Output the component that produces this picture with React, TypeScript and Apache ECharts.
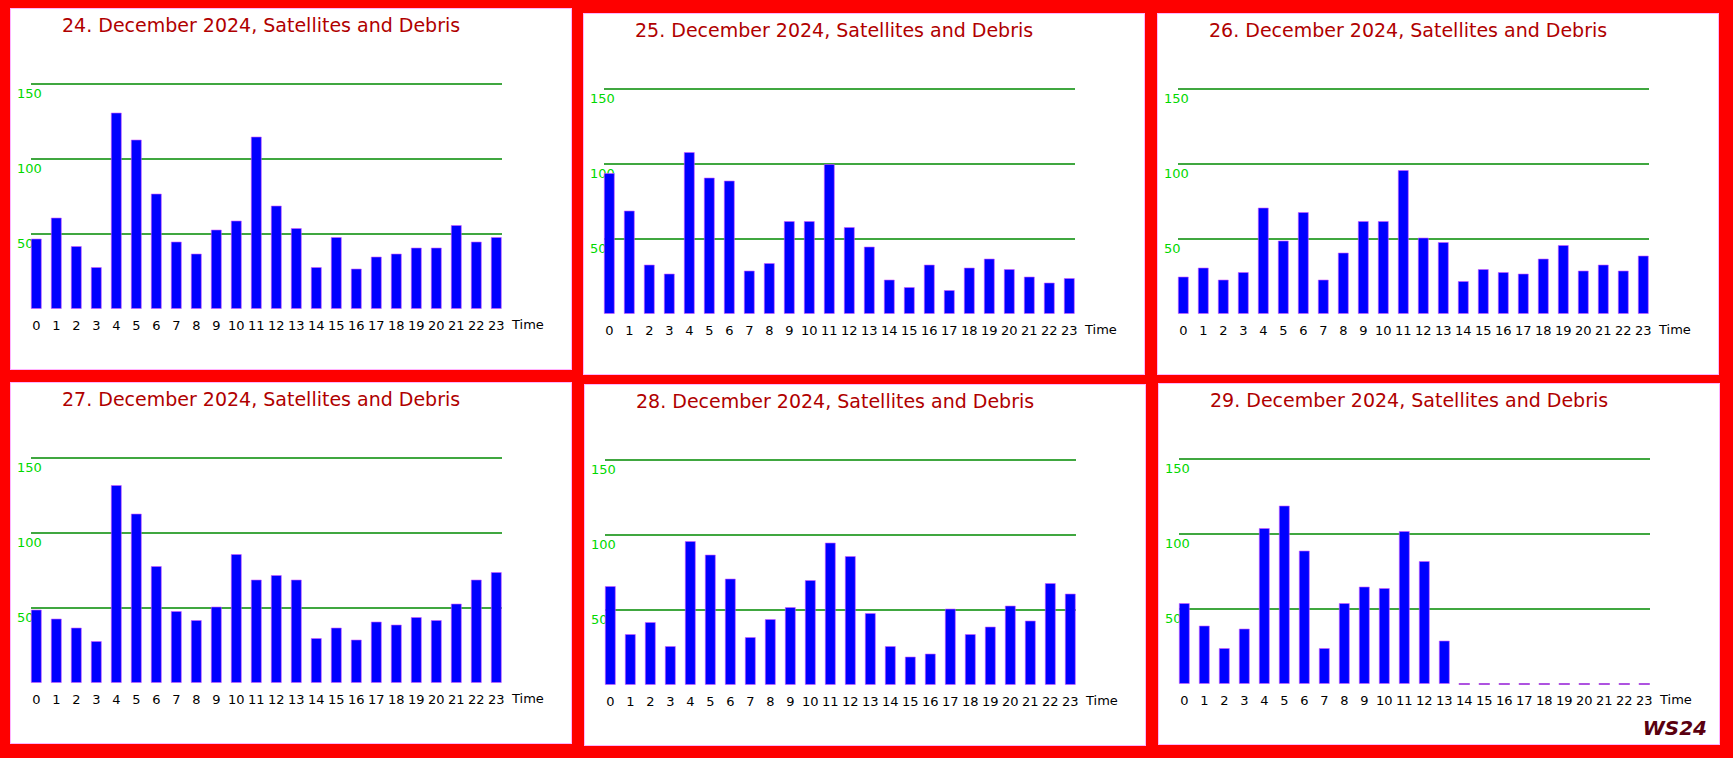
import { useEffect, useRef } from "react";
import * as echarts from "echarts";

// hours on the x axis
const hours = Array.from({ length: 24 }, (_, i) => String(i));

// counts, one array per day
const dec24 = [47, 61, 42, 28, 131, 113, 77, 45, 37, 53, 59, 115, 69, 54, 28, 48, 27, 35, 37, 41, 41, 56, 45, 48];
const dec25 = [94, 69, 33, 27, 108, 91, 89, 29, 34, 62, 62, 100, 58, 45, 23, 18, 33, 16, 31, 37, 30, 25, 21, 24];
const dec26 = [25, 31, 23, 28, 71, 49, 68, 23, 41, 62, 62, 96, 51, 48, 22, 30, 28, 27, 37, 46, 29, 33, 29, 39];
const dec27 = [49, 43, 37, 28, 132, 113, 78, 48, 42, 51, 86, 69, 72, 69, 30, 37, 29, 41, 39, 44, 42, 53, 69, 74];
const dec28 = [66, 34, 42, 26, 96, 87, 71, 32, 44, 52, 70, 95, 86, 48, 26, 19, 21, 51, 34, 39, 53, 43, 68, 61];
const dec29 = [54, 39, 24, 37, 104, 119, 89, 24, 54, 65, 64, 102, 82, 29, null, null, null, null, null, null, null, null, null, null];

const titles = [
  "24. December 2024, Satellites and Debris",
  "25. December 2024, Satellites and Debris",
  "26. December 2024, Satellites and Debris",
  "27. December 2024, Satellites and Debris",
  "28. December 2024, Satellites and Debris",
  "29. December 2024, Satellites and Debris",
];
const dayValues = [dec24, dec25, dec26, dec27, dec28, dec29];

// y axis ticks
const yMax = 150;
const yStep = 50;

// panel positions on the page
const panelPos = [
  [11, 9],
  [584, 14],
  [1158, 14],
  [11, 383],
  [585, 385],
  [1159, 384],
];

const FONT = "DejaVu Sans";

function Panel({ title, values, sign }: { title: string; values: (number | null)[]; sign: boolean }) {
  const chartRef = useRef(null);

  useEffect(() => {
    const chart = echarts.init(chartRef.current, null, { renderer: "svg" });

    const missing = values
      .map((v, i) => (v == null ? [i, 0] : null))
      .filter((d) => d != null);

    const graphics: any[] = [
      {
        type: "text",
        left: 501,
        top: 309,
        style: { text: "Time", fill: "#000", fontSize: 13, fontFamily: FONT },
      },
    ];
    if (sign) {
      graphics.push({
        type: "text",
        right: 12,
        bottom: 6,
        style: {
          text: "WS24",
          fill: "#5a0010",
          fontSize: 20,
          fontWeight: "bold",
          fontStyle: "italic",
          fontFamily: FONT,
        },
      });
    }

    const option = {
      animation: false,
      title: {
        text: title,
        left: 46,
        top: 1,
        textStyle: { color: "#b00000", fontSize: 19, fontWeight: "normal", fontFamily: FONT },
      },
      grid: [
        // grid for the green lines only
        { left: 20, right: 69, top: 75, height: 150 },
        // grid for the bars
        { left: 15.3, right: 64.7, top: 75, height: 225 },
      ],
      xAxis: [
        { gridIndex: 0, type: "value", min: 0, max: 1, show: false },
        {
          gridIndex: 1,
          type: "category",
          data: hours,
          axisLine: { show: false },
          axisTick: { show: false },
          axisLabel: { interval: 0, margin: 10, color: "#000", fontSize: 13, fontFamily: FONT },
        },
      ],
      yAxis: [
        {
          gridIndex: 0,
          type: "value",
          min: yStep,
          max: yMax,
          interval: yStep,
          axisLine: { show: false },
          axisTick: { show: false },
          splitLine: { show: true, lineStyle: { color: "#008a00", width: 1.5 } },
          axisLabel: {
            align: "left",
            margin: 14,
            verticalAlign: "top",
            padding: [3, 0, 0, 0],
            color: "#00d800",
            fontSize: 13,
            fontFamily: FONT,
          },
        },
        { gridIndex: 1, type: "value", min: 0, max: yMax, show: false, splitLine: { show: false } },
      ],
      series: [
        {
          type: "bar",
          xAxisIndex: 1,
          yAxisIndex: 1,
          data: values,
          barWidth: 11,
          itemStyle: { color: "#0000ff", borderColor: "rgba(210,90,255,0.6)", borderWidth: 1 },
        },
        {
          type: "scatter",
          xAxisIndex: 1,
          yAxisIndex: 1,
          data: missing,
          symbol: "rect",
          symbolSize: [11, 2],
          itemStyle: { color: "#9a28d8" },
        },
      ],
      graphic: graphics,
    };

    chart.setOption(option);
    return () => {
      chart.dispose();
    };
  }, [title, values, sign]);

  return <div ref={chartRef} style={{ width: "100%", height: "100%" }}></div>;
}

function App() {
  return (
    <div
      style={{
        position: "absolute",
        left: 0,
        top: 0,
        width: 1733,
        height: 758,
        background: "#fe0000",
        overflow: "hidden",
      }}
    >
      {titles.map((t, i) => (
        <div
          key={t}
          style={{
            position: "absolute",
            left: panelPos[i][0],
            top: panelPos[i][1],
            width: 560,
            height: 360,
            background: "#fff",
            outline: "1px solid #ffb4ff",
          }}
        >
          <Panel title={t} values={dayValues[i]} sign={i === 5} />
        </div>
      ))}
    </div>
  );
}

export default App;
